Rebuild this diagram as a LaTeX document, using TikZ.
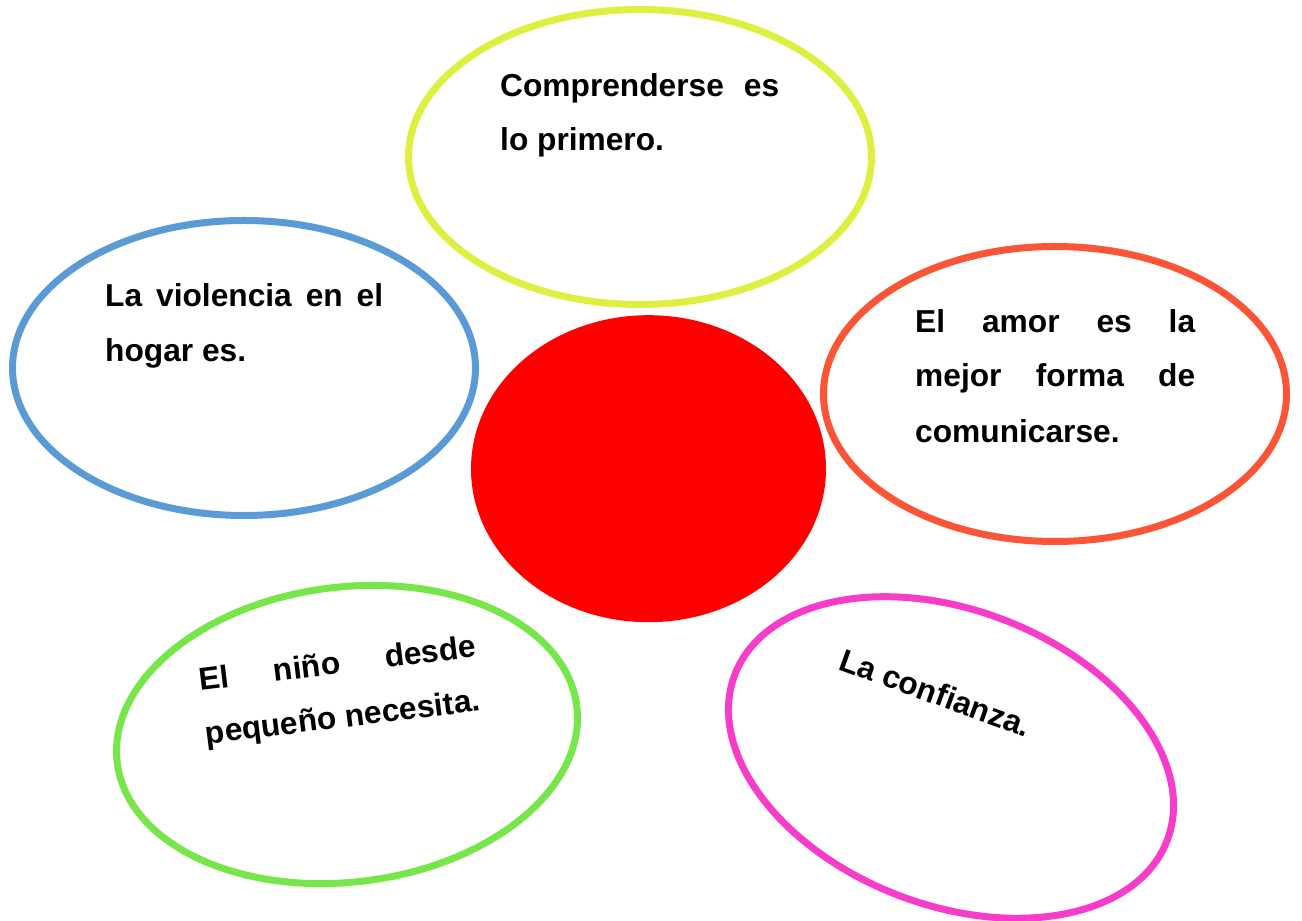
\documentclass[tikz,border=0pt]{standalone}
\usepackage{fontspec}
\setmainfont{Liberation Sans}
\usetikzlibrary{shapes.geometric}
\definecolor{cyel}{RGB}{221,240,66}
\definecolor{cblu}{RGB}{91,155,213}
\definecolor{cora}{RGB}{252,84,54}
\definecolor{cgre}{RGB}{119,230,74}
\definecolor{cmag}{RGB}{246,60,200}
\definecolor{cred}{RGB}{255,0,0}
\begin{document}
\begin{tikzpicture}[x=1pt,y=1pt,
  oval/.style={ellipse, draw, line width=7pt, minimum width=463pt, minimum height=295pt, inner sep=0pt},
  txt/.style={anchor=base west, inner sep=0pt, font=\bfseries\fontsize{31.7}{38}\selectfont}]
\useasboundingbox (0,0) rectangle (1302,921);
% ellipses
\node[oval, draw=cyel] (yel) at (640,764) {};
\node[oval, draw=cblu] (blu) at (244,553) {};
\node[oval, draw=cora] (ora) at (1055,527) {};
\node[oval, draw=cgre, rotate=7] (gre) at (347,186.5) {};
\node[oval, draw=cmag, rotate=-21] (mag) at (951,163.5) {};
\node[ellipse, fill=cred, minimum width=355pt, minimum height=307pt, inner sep=0pt] (red) at (648.5,452.3) {};
% texts
\node[txt] (y1) at (500,824) {\makebox[279pt][s]{Comprenderse \ es}};
\node[txt] (y2) at (500,770) {lo primero.};
\node[txt] (b1) at (105,614.3) {\makebox[278pt][s]{La violencia en el}};
\node[txt] (b2) at (105,559.3) {hogar es.};
\node[txt] (o1) at (915,588.3) {\makebox[280pt][s]{El amor es la}};
\node[txt] (o2) at (915,534) {\makebox[280pt][s]{mejor forma de}};
\node[txt] (o3) at (915,478.3) {comunicarse.};
\node[txt, rotate=7] (g1) at (200,230.3) {\makebox[279pt][s]{El niño desde}};
\node[txt, rotate=7] (g2) at (206.6,176.7) {pequeño necesita.};
\node[txt, rotate=-20] (m1) at (837,252) {La confianza.};
\end{tikzpicture}
\end{document}
